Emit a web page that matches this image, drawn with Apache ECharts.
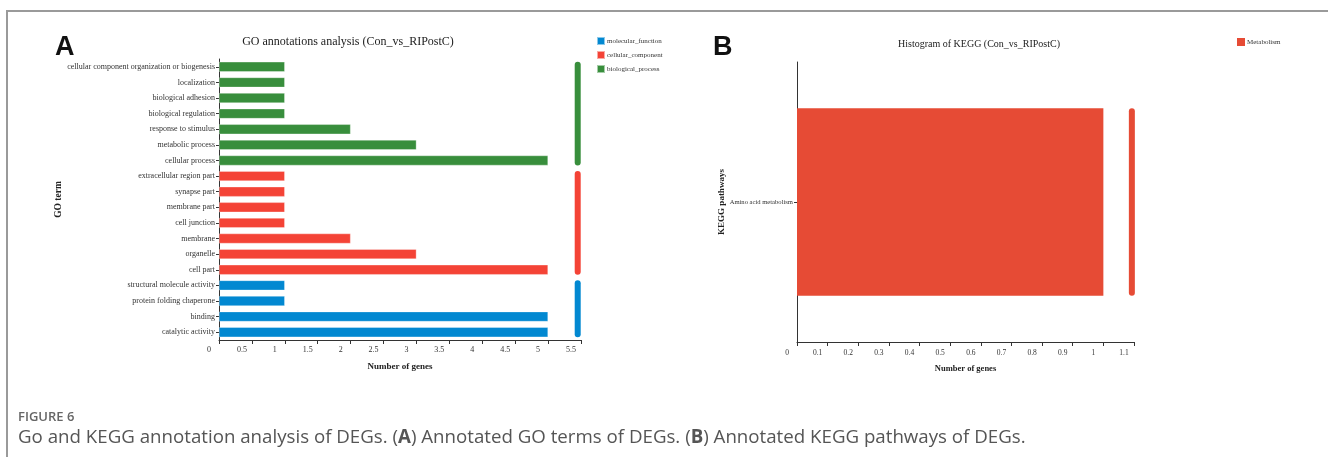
<!DOCTYPE html>
<html>
<head>
<meta charset="utf-8">
<script src="https://cdn.jsdelivr.net/npm/echarts@6/dist/echarts.min.js"></script>
<style>
  html, body { margin: 0; padding: 0; background: #fff; }
  body { width: 1328px; height: 457px; position: relative; overflow: hidden; }
  #frame { position: absolute; left: 6px; top: 10px; width: 1330px; height: 460px;
           border-top: 2px solid #9a9a9a; border-left: 2px solid #9a9a9a; box-sizing: border-box; }
  #chart { position: absolute; left: 0; top: 0; width: 1328px; height: 457px; }
  .figno { position: absolute; left: 18px; top: 408px; font-family: "Open Sans", sans-serif;
           font-weight: 600; font-size: 13px; color: #666; line-height: 16px; }
  .caption { position: absolute; left: 18px; top: 424px; font-family: "Open Sans", sans-serif;
             font-weight: 400; font-size: 18.7px; color: #555; line-height: 24px; white-space: nowrap; }
  .caption b { font-weight: 700; }
</style>
</head>
<body>
<div id="frame"></div>
<div id="chart"></div>
<div class="figno">FIGURE 6</div>
<div class="caption">Go and KEGG annotation analysis of DEGs. (<b>A</b>) Annotated GO terms of DEGs. (<b>B</b>) Annotated KEGG pathways of DEGs.</div>
<script>
// GO terms, listed top to bottom
const goTerms = [
  'cellular component organization or biogenesis',
  'localization',
  'biological adhesion',
  'biological regulation',
  'response to stimulus',
  'metabolic process',
  'cellular process',
  'extracellular region part',
  'synapse part',
  'membrane part',
  'cell junction',
  'membrane',
  'organelle',
  'cell part',
  'structural molecule activity',
  'protein folding chaperone',
  'binding',
  'catalytic activity'
];
const goCounts = [1, 1, 1, 1, 2, 3, 5, 1, 1, 1, 1, 2, 3, 5, 1, 1, 5, 5];
const goTermGroup = [
  'biological_process', 'biological_process', 'biological_process', 'biological_process',
  'biological_process', 'biological_process', 'biological_process',
  'cellular_component', 'cellular_component', 'cellular_component', 'cellular_component',
  'cellular_component', 'cellular_component', 'cellular_component',
  'molecular_function', 'molecular_function', 'molecular_function', 'molecular_function'
];
const goGroupNames = ['molecular_function', 'cellular_component', 'biological_process'];
const goAxisMax = 5.5;
const goAxisStep = 0.5;

// KEGG pathways
const keggPathways = ['Amino acid metabolism'];
const keggCounts = [1];
const keggClass = ['Metabolism'];
const keggAxisMax = 1.1;
const keggAxisStep = 0.1;

const groupColors = {
  molecular_function: '#0288d1',
  cellular_component: '#f44336',
  biological_process: '#388e3c',
  Metabolism: '#e64b35'
};

const serif = '"Liberation Serif", "DejaVu Serif", serif';
const axisColor = '#333';

// tick labels sit a little to the left of their tick marks
function tickRich(size) {
  return { n: { padding: [0, 20, 0, 0], fontFamily: serif, fontSize: size, color: '#333' } };
}
function tickFormatter(v) {
  return '{n|' + String(+v.toFixed(2)) + '}';
}

// first/last row of each group, for the side bracket bars
function groupSpans(groups, names) {
  return names.map(function (g) {
    return { name: g, first: groups.indexOf(g), last: groups.lastIndexOf(g) };
  }).filter(function (s) { return s.first >= 0; });
}

const goSpans = groupSpans(goTermGroup, goGroupNames);
const keggSpans = groupSpans(keggClass, ['Metabolism']);

const GO_BAR = 10;

function bracketRenderer(spans, markerX, halfFn) {
  return function (params, api) {
    const span = spans[params.dataIndex];
    const p1 = api.coord([markerX, span.first]);
    const p2 = api.coord([markerX, span.last]);
    const half = halfFn(api);
    const top = Math.min(p1[1], p2[1]) - half;
    const h = Math.abs(p2[1] - p1[1]) + 2 * half;
    return {
      type: 'rect',
      shape: { x: p1[0] - 3, y: top, width: 6, height: h, r: 3 },
      style: { fill: groupColors[span.name] }
    };
  };
}

const goSeries = goGroupNames.map(function (g) {
  return {
    type: 'bar',
    name: g,
    stack: 'go',
    xAxisIndex: 0,
    yAxisIndex: 0,
    barWidth: GO_BAR,
    itemStyle: { color: groupColors[g], borderColor: 'rgba(255,255,255,0.55)', borderWidth: 0.6 },
    data: goCounts.map(function (v, i) { return goTermGroup[i] === g ? v : '-'; })
  };
});

const chart = echarts.init(document.getElementById('chart'), null, { renderer: 'canvas' });

chart.setOption({
  animation: false,
  title: [
    { text: 'GO annotations analysis (Con_vs_RIPostC)', left: 348, top: 36, padding: 0, textAlign: 'center',
      textStyle: { fontFamily: serif, fontSize: 12, fontWeight: 'normal', color: '#222' } },
    { text: 'Histogram of KEGG (Con_vs_RIPostC)', left: 979, top: 39, padding: 0, textAlign: 'center',
      textStyle: { fontFamily: serif, fontSize: 10, fontWeight: 'normal', color: '#222' } }
  ],
  legend: [
    { data: goGroupNames, orient: 'vertical', left: 596, top: 36, padding: 0,
      itemWidth: 8, itemHeight: 8, itemGap: 4, icon: 'rect',
      textStyle: { fontFamily: serif, fontSize: 7, color: '#333', padding: [0, 0, 0, -3] } },
    { data: ['Metabolism'], orient: 'vertical', left: 1237, top: 38, padding: 0,
      itemWidth: 8, itemHeight: 8, icon: 'rect',
      textStyle: { fontFamily: serif, fontSize: 7, color: '#333', padding: [0, 0, 0, -3] } }
  ],
  graphic: [
    { type: 'text', left: 55, top: 34, style: { text: 'A', fontFamily: '"Liberation Sans", Arial, sans-serif', fontWeight: 'bold', fontSize: 27, fill: '#111' } },
    { type: 'text', left: 713, top: 34, style: { text: 'B', fontFamily: '"Liberation Sans", Arial, sans-serif', fontWeight: 'bold', fontSize: 27, fill: '#111' } }
  ],
  grid: [
    { left: 219, top: 59, width: 362, height: 281, containLabel: false },
    { left: 797, top: 62, width: 337, height: 280, containLabel: false }
  ],
  xAxis: [
    { type: 'value', gridIndex: 0, min: 0, max: goAxisMax, interval: goAxisStep,
      name: 'Number of genes', nameLocation: 'middle', nameGap: 22,
      nameTextStyle: { fontFamily: serif, fontSize: 9, fontWeight: 'bold', color: '#222' },
      axisLine: { show: true, lineStyle: { color: axisColor, width: 1 } },
      axisTick: { show: true, length: 4, lineStyle: { color: axisColor } },
      splitLine: { show: false },
      axisLabel: { margin: 6, formatter: tickFormatter, rich: tickRich(8) } },
    { type: 'value', gridIndex: 1, min: 0, max: keggAxisMax, interval: keggAxisStep,
      name: 'Number of genes', nameLocation: 'middle', nameGap: 22,
      nameTextStyle: { fontFamily: serif, fontSize: 8.5, fontWeight: 'bold', color: '#222' },
      axisLine: { show: true, lineStyle: { color: axisColor, width: 1 } },
      axisTick: { show: true, length: 4, lineStyle: { color: axisColor } },
      splitLine: { show: false },
      axisLabel: { margin: 7, formatter: tickFormatter, rich: tickRich(7.5) } }
  ],
  yAxis: [
    { type: 'category', gridIndex: 0, data: goTerms, inverse: true,
      name: 'GO term', nameLocation: 'middle', nameGap: 154, nameRotate: 90,
      nameTextStyle: { fontFamily: serif, fontSize: 9.5, fontWeight: 'bold', color: '#222' },
      axisLine: { show: true, lineStyle: { color: axisColor, width: 1 } },
      axisTick: { show: true, alignWithLabel: true, length: 3, lineStyle: { color: axisColor } },
      axisLabel: { fontFamily: serif, fontSize: 8, color: '#333', margin: 4, interval: 0 } },
    { type: 'category', gridIndex: 1, data: keggPathways, inverse: true,
      name: 'KEGG pathways', nameLocation: 'middle', nameGap: 71, nameRotate: 90,
      nameTextStyle: { fontFamily: serif, fontSize: 9, fontWeight: 'bold', color: '#222' },
      axisLine: { show: true, lineStyle: { color: axisColor, width: 1 } },
      axisTick: { show: true, alignWithLabel: true, length: 3, lineStyle: { color: axisColor } },
      axisLabel: { fontFamily: serif, fontSize: 6.6, color: '#333', margin: 4 } }
  ],
  series: goSeries.concat([
    { type: 'custom', name: 'go-brackets', xAxisIndex: 0, yAxisIndex: 0, silent: true,
      renderItem: bracketRenderer(goSpans, goAxisMax - 0.05, function () { return GO_BAR / 2; }),
      data: goSpans.map(function (s) { return [goAxisMax - 0.05, s.first, s.last]; }),
      encode: { x: 0, y: 1 } },
    { type: 'bar', name: 'Metabolism', xAxisIndex: 1, yAxisIndex: 1, barWidth: '67%',
      itemStyle: { color: groupColors.Metabolism }, data: keggCounts },
    { type: 'custom', name: 'kegg-brackets', xAxisIndex: 1, yAxisIndex: 1, silent: true,
      renderItem: bracketRenderer(keggSpans, keggAxisMax - 0.007, function (api) { return api.size([0, 1])[1] * 0.67 / 2; }),
      data: keggSpans.map(function (s) { return [keggAxisMax - 0.007, s.first, s.last]; }),
      encode: { x: 0, y: 1 } }
  ])
});
</script>
</body>
</html>
